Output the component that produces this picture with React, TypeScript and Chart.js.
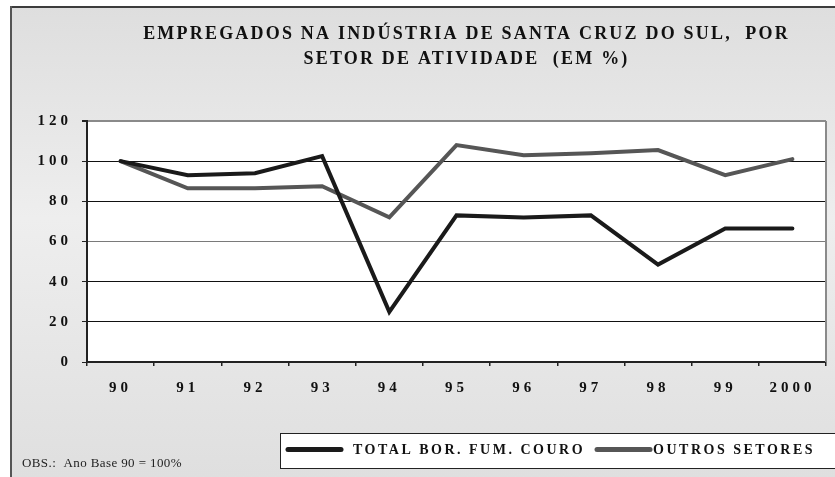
import { useEffect, useRef } from "react";
import { Chart, registerables } from "chart.js";

Chart.register(...registerables);

const categories = ["90", "91", "92", "93", "94", "95", "96", "97", "98", "99", "2000"];
const totalBorFumCouro = [100, 93, 94, 102.5, 25, 73, 72, 73, 48.5, 66.5, 66.5];
const outrosSetores = [100, 86.5, 86.5, 87.5, 72, 108, 103, 104, 105.5, 93, 101];
const yMin = 0;
const yMax = 120;
const yStep = 20;
const seriesLabels = ["TOTAL BOR. FUM. COURO", "OUTROS SETORES"];
const seriesColors = ["#1a1a1a", "#565656"];
const titleLines = [
  "EMPREGADOS NA INDÚSTRIA DE SANTA CRUZ DO SUL,  POR",
  "SETOR DE ATIVIDADE  (EM %)",
];
const footnote = "OBS.:  Ano Base 90 = 100%";

const SERIF = '"Liberation Serif", "DejaVu Serif", serif';
const TICK_SPACING = "4px";

const decoPlugin = {
  id: "deco",
  beforeUpdate(chart: any) {
    chart.ctx.letterSpacing = TICK_SPACING;
  },
  beforeLayout(chart: any) {
    chart.ctx.letterSpacing = TICK_SPACING;
  },
  beforeDraw(chart: any) {
    const { ctx, width, height, chartArea: a } = chart;
    ctx.letterSpacing = TICK_SPACING;
    ctx.save();
    ctx.fillStyle = "#ffffff";
    ctx.fillRect(0, 0, width, height);
    const g = ctx.createLinearGradient(0, 6, 0, height);
    g.addColorStop(0, "#dedede");
    g.addColorStop(0.45, "#eeeeee");
    g.addColorStop(1, "#dfdfdf");
    ctx.fillStyle = g;
    ctx.fillRect(10, 6, width - 10, height - 6);
    ctx.fillStyle = "#3c3c3c";
    ctx.fillRect(10, 6, width - 10, 2);
    ctx.fillStyle = "#555555";
    ctx.fillRect(10, 6, 2, height - 6);
    ctx.fillStyle = "#ffffff";
    ctx.fillRect(a.left, a.top, a.right - a.left, a.bottom - a.top);
    ctx.restore();
  },
  afterDraw(chart: any) {
    const { ctx, chartArea: a } = chart;
    ctx.save();
    // right border of plot area
    ctx.fillStyle = "#8a8a8a";
    ctx.fillRect(a.right - 1, a.top, 2, a.bottom - a.top);

    // title
    ctx.letterSpacing = "2.2px";
    ctx.font = `bold 18px ${SERIF}`;
    ctx.fillStyle = "#111111";
    ctx.textAlign = "center";
    ctx.textBaseline = "middle";
    const cx = 466.5;
    ctx.fillText(titleLines[0], cx, 34.5);
    ctx.fillText(titleLines[1], cx, 59.5);

    // legend box
    ctx.fillStyle = "#ffffff";
    ctx.fillRect(280, 433, 600, 35);
    ctx.strokeStyle = "#222222";
    ctx.lineWidth = 1;
    ctx.strokeRect(280.5, 433.5, 600, 35);

    ctx.letterSpacing = "2.5px";
    ctx.font = `bold 14px ${SERIF}`;
    ctx.textAlign = "left";
    ctx.textBaseline = "middle";
    const ly = 449.5;
    let x = 288;
    const ds = chart.data.datasets;
    for (let i = 0; i < ds.length; i++) {
      ctx.strokeStyle = ds[i].borderColor;
      ctx.lineWidth = 5;
      ctx.lineCap = "round";
      ctx.beginPath();
      ctx.moveTo(x, ly);
      ctx.lineTo(x + 53, ly);
      ctx.stroke();
      const tx = x + (i === 0 ? 65 : 56);
      ctx.fillStyle = "#111111";
      ctx.fillText(ds[i].label, tx, ly + 1);
      x = tx + ctx.measureText(ds[i].label).width + 12;
    }

    // footnote
    ctx.letterSpacing = "0.4px";
    ctx.font = `13px ${SERIF}`;
    ctx.fillStyle = "#222222";
    ctx.textAlign = "left";
    ctx.textBaseline = "middle";
    ctx.fillText(footnote, 22, 464);
    ctx.restore();
  },
};

export default function App() {
  const ref = useRef<HTMLCanvasElement | null>(null);

  useEffect(() => {
    document.body.style.margin = "0";
    document.body.style.overflow = "hidden";
    const canvas = ref.current!;
    const ctx2d = canvas.getContext("2d") as any;
    ctx2d.letterSpacing = TICK_SPACING;

    const chart = new Chart(canvas, {
      type: "line",
      data: {
        labels: categories,
        datasets: [
          {
            label: seriesLabels[0],
            data: totalBorFumCouro,
            borderColor: seriesColors[0],
            backgroundColor: seriesColors[0],
            borderWidth: 4,
            pointRadius: 0,
            tension: 0,
            borderCapStyle: "round",
            borderJoinStyle: "miter",
          },
          {
            label: seriesLabels[1],
            data: outrosSetores,
            borderColor: seriesColors[1],
            backgroundColor: seriesColors[1],
            borderWidth: 4,
            pointRadius: 0,
            tension: 0,
            borderCapStyle: "round",
            borderJoinStyle: "miter",
          },
        ],
      },
      plugins: [decoPlugin],
      options: {
        responsive: false,
        animation: false,
        devicePixelRatio: 1,
        layout: { padding: { top: 121, left: 0, right: 9, bottom: 85 } },
        plugins: {
          legend: { display: false },
          title: { display: false },
          tooltip: { enabled: false },
        },
        scales: {
          x: {
            type: "category",
            offset: true,
            afterFit: (s: any) => {
              s.height = 30;
            },
            grid: {
              offset: true,
              drawOnChartArea: false,
              drawTicks: true,
              tickLength: 4,
              tickColor: "#222222",
              lineWidth: 1.5,
            },
            border: { color: "#222222", width: 2 },
            ticks: {
              color: "#111111",
              font: { family: SERIF, size: 15, weight: "bold" },
              padding: 13,
              maxRotation: 0,
              autoSkip: false,
            },
          },
          y: {
            min: yMin,
            max: yMax,
            afterFit: (s: any) => {
              s.width = 87;
            },
            ticks: {
              stepSize: yStep,
              color: "#111111",
              font: { family: SERIF, size: 15, weight: "bold" },
              padding: 10,
            },
            grid: {
              color: (c: any) =>
                c.tick && c.tick.value === 60
                  ? "#7a7a7a"
                  : c.tick && c.tick.value === 120
                  ? "#8a8a8a"
                  : "#111111",
              lineWidth: (c: any) => (c.tick && c.tick.value === 120 ? 2 : 1),
              tickColor: "#222222",
              tickLength: 5,
              drawTicks: true,
            },
            border: { color: "#222222", width: 2 },
          },
        },
      },
    });
    return () => chart.destroy();
  }, []);

  return <canvas ref={ref} width={835} height={477} style={{ display: "block" }} />;
}
